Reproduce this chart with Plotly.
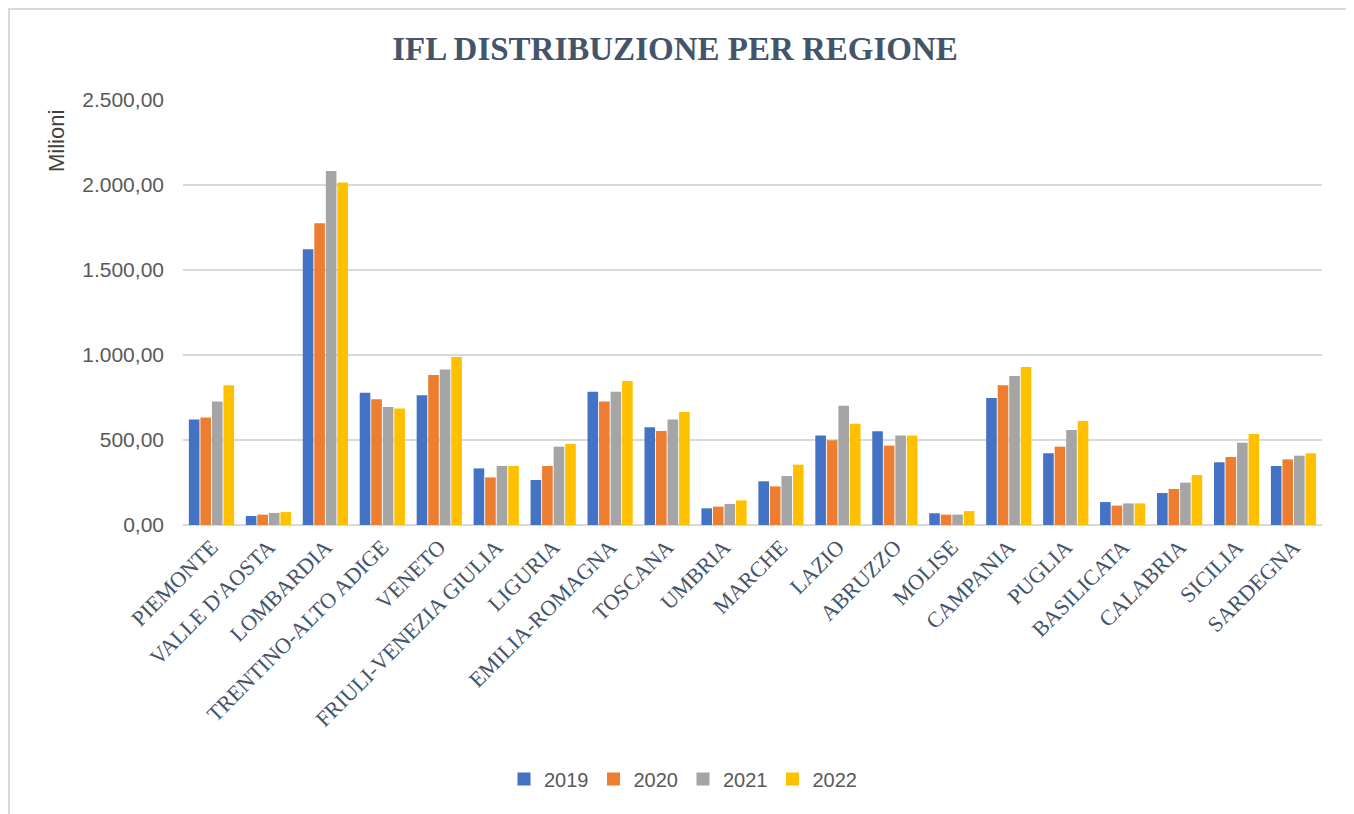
import plotly.graph_objects as go

regions = ["PIEMONTE", "VALLE D'AOSTA", "LOMBARDIA", "TRENTINO-ALTO ADIGE", "VENETO",
           "FRIULI-VENEZIA GIULIA", "LIGURIA", "EMILIA-ROMAGNA", "TOSCANA", "UMBRIA",
           "MARCHE", "LAZIO", "ABRUZZO", "MOLISE", "CAMPANIA", "PUGLIA", "BASILICATA",
           "CALABRIA", "SICILIA", "SARDEGNA"]

v2019 = [620, 53, 1622, 778, 763, 333, 265, 784, 575, 98, 257, 527, 551, 69, 747, 422, 135, 188, 369, 347]
v2020 = [633, 61, 1775, 739, 882, 280, 347, 726, 553, 108, 227, 498, 467, 61, 822, 461, 114, 212, 400, 386]
v2021 = [726, 71, 2083, 694, 914, 347, 461, 784, 620, 124, 288, 702, 527, 61, 877, 559, 127, 249, 484, 408]
v2022 = [822, 76, 2014, 686, 988, 347, 477, 847, 665, 145, 355, 596, 527, 82, 930, 612, 127, 294, 535, 422]

years = ["2019", "2020", "2021", "2022"]
series = [v2019, v2020, v2021, v2022]
colors = ["#4472C4", "#ED7D31", "#A5A5A5", "#FFC000"]

# page body has an 8px margin: figure coordinates = screen coordinates - 8
OFF = 8
W, H = 1354, 814
L, R, T, B = 183 - OFF, 1322 - OFF, 100 - OFF, 525 - OFF

fig = go.Figure()
for name, vals, col in zip(years, series, colors):
    fig.add_trace(go.Bar(x=regions, y=vals, name=name, legendgroup=name, showlegend=False,
                         marker=dict(color=col, line=dict(width=0))))
# square legend swatches
for name, col in zip(years, colors):
    fig.add_trace(go.Scatter(x=[None], y=[None], mode="markers", name=name, legendgroup=name,
                             marker=dict(symbol="square", size=13, color=col)))

pw = R - L
ph = B - T

def px_x(x):
    return (x - OFF - L) / pw

def px_y(y):
    return (B - (y - OFF)) / ph

fig.update_layout(
    width=W, height=H,
    margin=dict(l=L, r=W - R, t=T, b=H - B, autoexpand=False),
    paper_bgcolor="white", plot_bgcolor="white",
    separators=",.",
    barmode="group", bargap=0.19, bargroupgap=0.08,
    title=dict(text="<b>IFL DISTRIBUZIONE PER REGIONE</b>",
               font=dict(family="Liberation Serif", size=33, color="#44546A"),
               x=(675 - OFF) / W, xref="container", xanchor="center",
               y=1 - (48 - OFF) / H, yref="container", yanchor="middle"),
    xaxis=dict(tickangle=-45, tickfont=dict(family="Liberation Serif", size=22, color="#44546A"),
               showgrid=False, showline=False, ticks="", ticklabelstandoff=4),
    yaxis=dict(range=[0, 2500], dtick=500, tickformat=",.2f",
               tickfont=dict(family="Liberation Sans", size=21, color="#595959"),
               gridcolor="#D9D9D9", gridwidth=2, zeroline=True, zerolinecolor="#D9D9D9",
               zerolinewidth=2, showline=False, ticks="", ticklabelstandoff=18),
    legend=dict(orientation="h", x=(683 - OFF) / W, xref="container", xanchor="center",
                y=1 - (779 - OFF) / H, yref="container", yanchor="middle",
                font=dict(family="Liberation Sans", size=20, color="#595959"),
                itemwidth=30, traceorder="normal"),
    annotations=[dict(text="Milioni", textangle=-90, showarrow=False,
                      xref="paper", yref="paper", x=px_x(56), y=px_y(141),
                      xanchor="center", yanchor="middle",
                      font=dict(family="Liberation Sans", size=22, color="#404040"))],
    shapes=[dict(type="rect", xref="paper", yref="paper",
                 x0=px_x(9), x1=px_x(1350), y0=px_y(840), y1=px_y(9),
                 line=dict(color="#D9D9D9", width=2), fillcolor="rgba(0,0,0,0)", layer="below")],
)

fig.write_html("out.html")
